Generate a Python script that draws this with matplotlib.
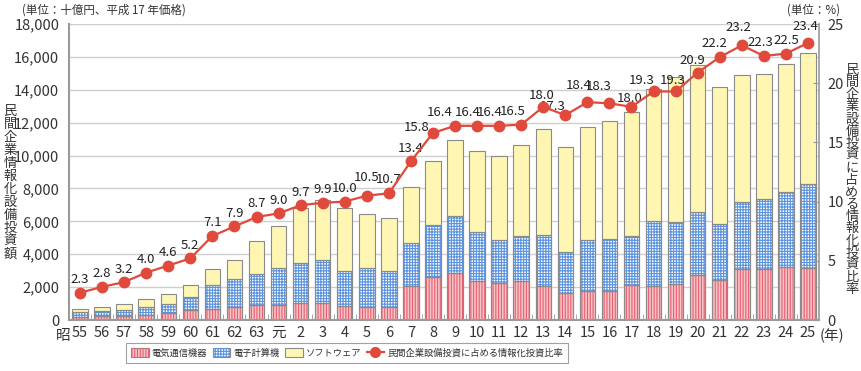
import numpy as np
import matplotlib
matplotlib.use("Agg")
import matplotlib.pyplot as plt
from matplotlib.patches import Patch
from matplotlib.lines import Line2D

plt.rcParams['font.family'] = ['Noto Sans CJK JP', 'DejaVu Sans']
plt.rcParams['hatch.linewidth'] = 0.8

# data (billion yen, 2005 prices) and ratio (%)
years = ['55', '56', '57', '58', '59', '60', '61', '62', '63', '元',
         '2', '3', '4', '5', '6', '7', '8', '9', '10', '11', '12', '13',
         '14', '15', '16', '17', '18', '19', '20', '21', '22', '23', '24', '25']
denki = [200, 220, 240, 320, 450, 630, 650, 770, 890, 890, 1030, 1030, 870, 770,
         770, 2090, 2600, 2840, 2350, 2270, 2350, 2090, 1640, 1760, 1760, 2110,
         2090, 2170, 2740, 2430, 3120, 3080, 3250, 3160]
keisanki = [270, 310, 370, 450, 520, 750, 1460, 1720, 1930, 2250, 2420, 2600, 2130,
            2370, 2210, 2580, 3160, 3470, 2980, 2620, 2780, 3080, 2480, 3090, 3190,
            3020, 3950, 3810, 3850, 3390, 4060, 4260, 4560, 5120]
soft = [180, 280, 360, 490, 610, 750, 1010, 1180, 1970, 2580, 3350, 3670, 3840,
        3330, 3210, 3400, 3920, 4640, 4950, 5090, 5540, 6430, 6430, 6910, 7150,
        7500, 8010, 8820, 8920, 8370, 7720, 7610, 7760, 7980]
ratio = [2.3, 2.8, 3.2, 4.0, 4.6, 5.2, 7.1, 7.9, 8.7, 9.0, 9.7, 9.9, 10.0, 10.5,
         10.7, 13.4, 15.8, 16.4, 16.4, 16.4, 16.5, 18.0, 17.3, 18.4, 18.3, 18.0,
         19.3, 19.3, 20.9, 22.2, 23.2, 22.3, 22.5, 23.4]

# label offsets in pixels (dx, dy), default (0, 13)
offs = {13: (0, 18), 14: (0, 14), 16: (-16, 5), 17: (-15, 13), 18: (-9, 13),
        19: (-9, 13), 20: (-9, 13), 21: (-2, 11), 22: (-13, 9), 23: (-9, 17),
        24: (-11, 17), 25: (-2, 8), 26: (-12, 11), 27: (-3, 11), 28: (-5, 12),
        29: (-5, 14), 30: (-3, 18), 31: (-3, 13), 32: (0, 13), 33: (-3, 16)}

red_face, red_hatch = '#f8c2c8', '#e4606e'
blue_face, blue_hatch = '#ffffff', '#5b93dd'
yel_face = '#fff6b3'
edge = '#8a8a8a'
line_c = '#e04a3c'
txt = '#333333'

fig = plt.figure(figsize=(8.62, 3.71), dpi=100)
ax = fig.add_axes([69/862, 51/371, 750/862, 296/371])
x = np.arange(len(years))
w = 0.7
d = np.array(denki)
k = np.array(keisanki)
s = np.array(soft)

ax.bar(x, d, w, color=red_face, edgecolor=edge, linewidth=0.8)
ax.bar(x, d, w, color='none', edgecolor=red_hatch, linewidth=0, hatch='||||||')
ax.bar(x, k, w, bottom=d, color=blue_face, edgecolor=edge, linewidth=0.8)
ax.bar(x, k, w, bottom=d, color='none', edgecolor=blue_hatch, linewidth=0, hatch='++++++')
ax.bar(x, s, w, bottom=d + k, color=yel_face, edgecolor=edge, linewidth=0.8)
# redraw outlines on top of hatch
ax.bar(x, d, w, color='none', edgecolor=edge, linewidth=0.8)
ax.bar(x, k, w, bottom=d, color='none', edgecolor=edge, linewidth=0.8)

ax.set_xlim(-0.5, len(years) - 0.5)
ax.set_ylim(0, 18000)
ax.set_yticks(np.arange(0, 18001, 2000))
ax.set_yticklabels([f'{v:,}' for v in range(0, 18001, 2000)])
ax.set_axisbelow(True)
ax.yaxis.grid(True, color='#cfcfcf', linewidth=1)
ax.set_xticks(x)
ax.set_xticklabels(years)
ax.set_xticks(x[:-1] + 0.5, minor=True)
ax.tick_params(axis='x', which='major', length=0, pad=4, labelsize=10.5, colors=txt)
ax.tick_params(axis='x', which='minor', length=4, direction='in', color='#9a9a9a')
ax.tick_params(axis='y', length=0, pad=7, labelsize=10.5, colors=txt)
for sp in ['top', 'right']:
    ax.spines[sp].set_visible(False)
for sp in ['left', 'bottom']:
    ax.spines[sp].set_color('#9a9a9a')
    ax.spines[sp].set_linewidth(1.5)

ax2 = ax.twinx()
ax2.set_ylim(0, 25)
ax2.set_yticks([0, 5, 10, 15, 20, 25])
ax2.tick_params(axis='y', length=4, direction='in', color='#9a9a9a', pad=6,
                labelsize=10.5, colors=txt)
for sp in ['top', 'left', 'bottom']:
    ax2.spines[sp].set_visible(False)
ax2.spines['right'].set_color('#9a9a9a')
ax2.spines['right'].set_linewidth(1.2)
ax2.plot(x, ratio, color=line_c, lw=1.6, marker='o', ms=7.5, mec=line_c, zorder=5)
for i, v in enumerate(ratio):
    dx, dy = offs.get(i, (0, 13))
    ax2.annotate(f'{v:.1f}', (i, v), xytext=(dx * 0.72, dy * 0.72),
                 textcoords='offset points', ha='center', va='center',
                 fontsize=9.5, color='#222222')

fig.text(63/862, 1 - 336/371, '昭', ha='center', va='center', fontsize=10.5, color=txt)
fig.text(832/862, 1 - 336/371, '(年)', ha='center', va='center', fontsize=10.5, color=txt)
fig.text(22/862, 1 - 10/371, '(単位：十億円、平成 17 年価格)', ha='left', va='center',
         fontsize=8.3, color=txt)
fig.text(840/862, 1 - 10/371, '(単位：%)', ha='right', va='center', fontsize=8.3, color=txt)
fig.text(10/862, 1 - 183/371, '\n'.join('民間企業情報化設備投資額'), ha='center',
         va='center', fontsize=9.5, linespacing=1.0, color=txt)
fig.text(852/862, 1 - 180/371, '\n'.join('民間企業設備投資に占める情報化投資比率'),
         ha='center', va='center', fontsize=9.5, linespacing=0.92, color=txt)

handles = [
    (Patch(facecolor=red_face, edgecolor=edge, linewidth=0.8),
     Patch(facecolor='none', edgecolor=red_hatch, linewidth=0, hatch='||||||')),
    (Patch(facecolor=blue_face, edgecolor=edge, linewidth=0.8),
     Patch(facecolor='none', edgecolor=blue_hatch, linewidth=0, hatch='++++++')),
    Patch(facecolor=yel_face, edgecolor=edge, linewidth=0.8),
    Line2D([], [], color=line_c, lw=1.6, marker='o', ms=7),
]
labels = ['電気通信機器', '電子計算機', 'ソフトウェア', '民間企業設備投資に占める情報化投資比率']
leg = fig.legend(handles, labels, loc='center', bbox_to_anchor=(347/862, 18/371),
                 ncol=4, frameon=True, fancybox=False, edgecolor='#8a8a8a',
                 fontsize=6.7, handlelength=1.9, handleheight=1.15, handletextpad=0.3,
                 columnspacing=0.6, borderpad=0.6, borderaxespad=0)
leg.get_frame().set_linewidth(0.8)
for t in leg.get_texts():
    t.set_color(txt)

fig.savefig('out.png', dpi=100)
